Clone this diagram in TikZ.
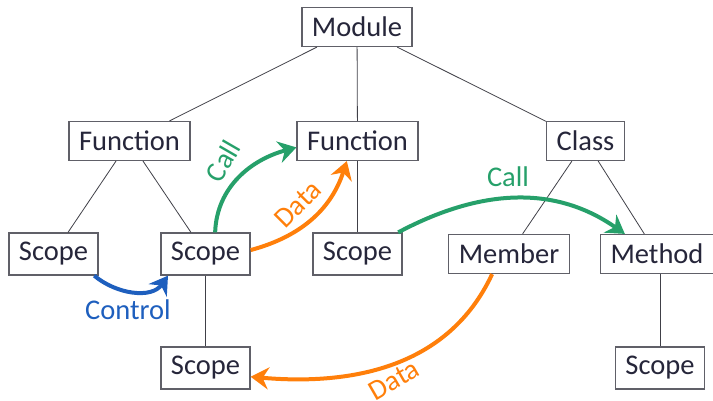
\documentclass[tikz,border=0pt]{standalone}
\usepackage{fontspec}
\setmainfont{Carlito}
\usetikzlibrary{arrows.meta}
\definecolor{txt}{HTML}{26263A}
\definecolor{boxline}{HTML}{606068}
\definecolor{treeline}{HTML}{404048}
\definecolor{cgreen}{HTML}{26A06A}
\definecolor{corange}{HTML}{FF7F0A}
\definecolor{cblue}{HTML}{1E5FBE}
\tikzset{
  box/.style={draw=boxline, line width=1.2pt, fill=white, text=txt,
    inner xsep=10pt, inner ysep=9.5pt, font=\fontsize{28.5}{31}\selectfont},
  tree/.style={draw=treeline, line width=0.8pt},
  flow/.style={line width=4pt, -{Stealth[length=18pt, width=22pt, inset=6pt]}},
  lbl/.style={font=\fontsize{28.5}{31}\selectfont, inner sep=0pt}
}
\begin{document}
\begin{tikzpicture}[x=1pt, y=-1pt]
\useasboundingbox (0,0) rectangle (713,400);
\node[box] (mod) at (357,27) {Module};
\node[box] (f1) at (129.5,141) {Function};
\node[box] (f2) at (357.5,141) {Function};
\node[box] (cls) at (585.5,141) {Class};
\node[box] (s1) at (53.5,254) {Scope};
\node[box] (s2) at (205.5,254) {Scope};
\node[box] (s3) at (357.5,254) {Scope};
\node[box] (mem) at (509,254) {Member};
\node[box, minimum width=109pt] (met) at (657,254) {Method};
\node[box] (s4) at (205.5,368) {Scope};
\node[box] (s5) at (660,368) {Scope};
\draw[tree] (mod) -- (f1);
\draw[tree] (mod) -- (f2);
\draw[tree] (mod) -- (cls);
\draw[tree] (f1) -- (s1);
\draw[tree] (f1) -- (s2);
\draw[tree] (f2) -- (s3);
\draw[tree] (cls) -- (mem);
\draw[tree] (cls) -- (met);
\draw[tree] (s2) -- (s4);
\draw[tree] (met.south -| s5.north) -- (s5.north);
% flows
\draw[flow, cblue] (s1.-28.5) to[out=-40, in=-125] (s2.-150);
\node[lbl, text=cblue] (lcontrol) at (128,310) {Control};
\draw[flow, cgreen] (s2.66.6) to[out=88, in=195] (f2.186);
\node[lbl, text=cgreen, rotate=60] (lcall1) at (223,161) {Call};
\draw[flow, corange] (s2.5) to[out=15, in=-108] (f2.-118);
\node[lbl, text=corange, rotate=45] (ldata1) at (298,204) {Data};
\draw[flow, cgreen] (s3.28.6) to[out=28, in=145] (met.148);
\node[lbl, text=cgreen] (lcall2) at (508,177) {Call};
\draw[flow, corange] (mem.-130) to[out=-115, in=-5] (s4.-11);
\node[lbl, text=corange, rotate=30] (ldata2) at (394,380) {Data};
\end{tikzpicture}
\end{document}
